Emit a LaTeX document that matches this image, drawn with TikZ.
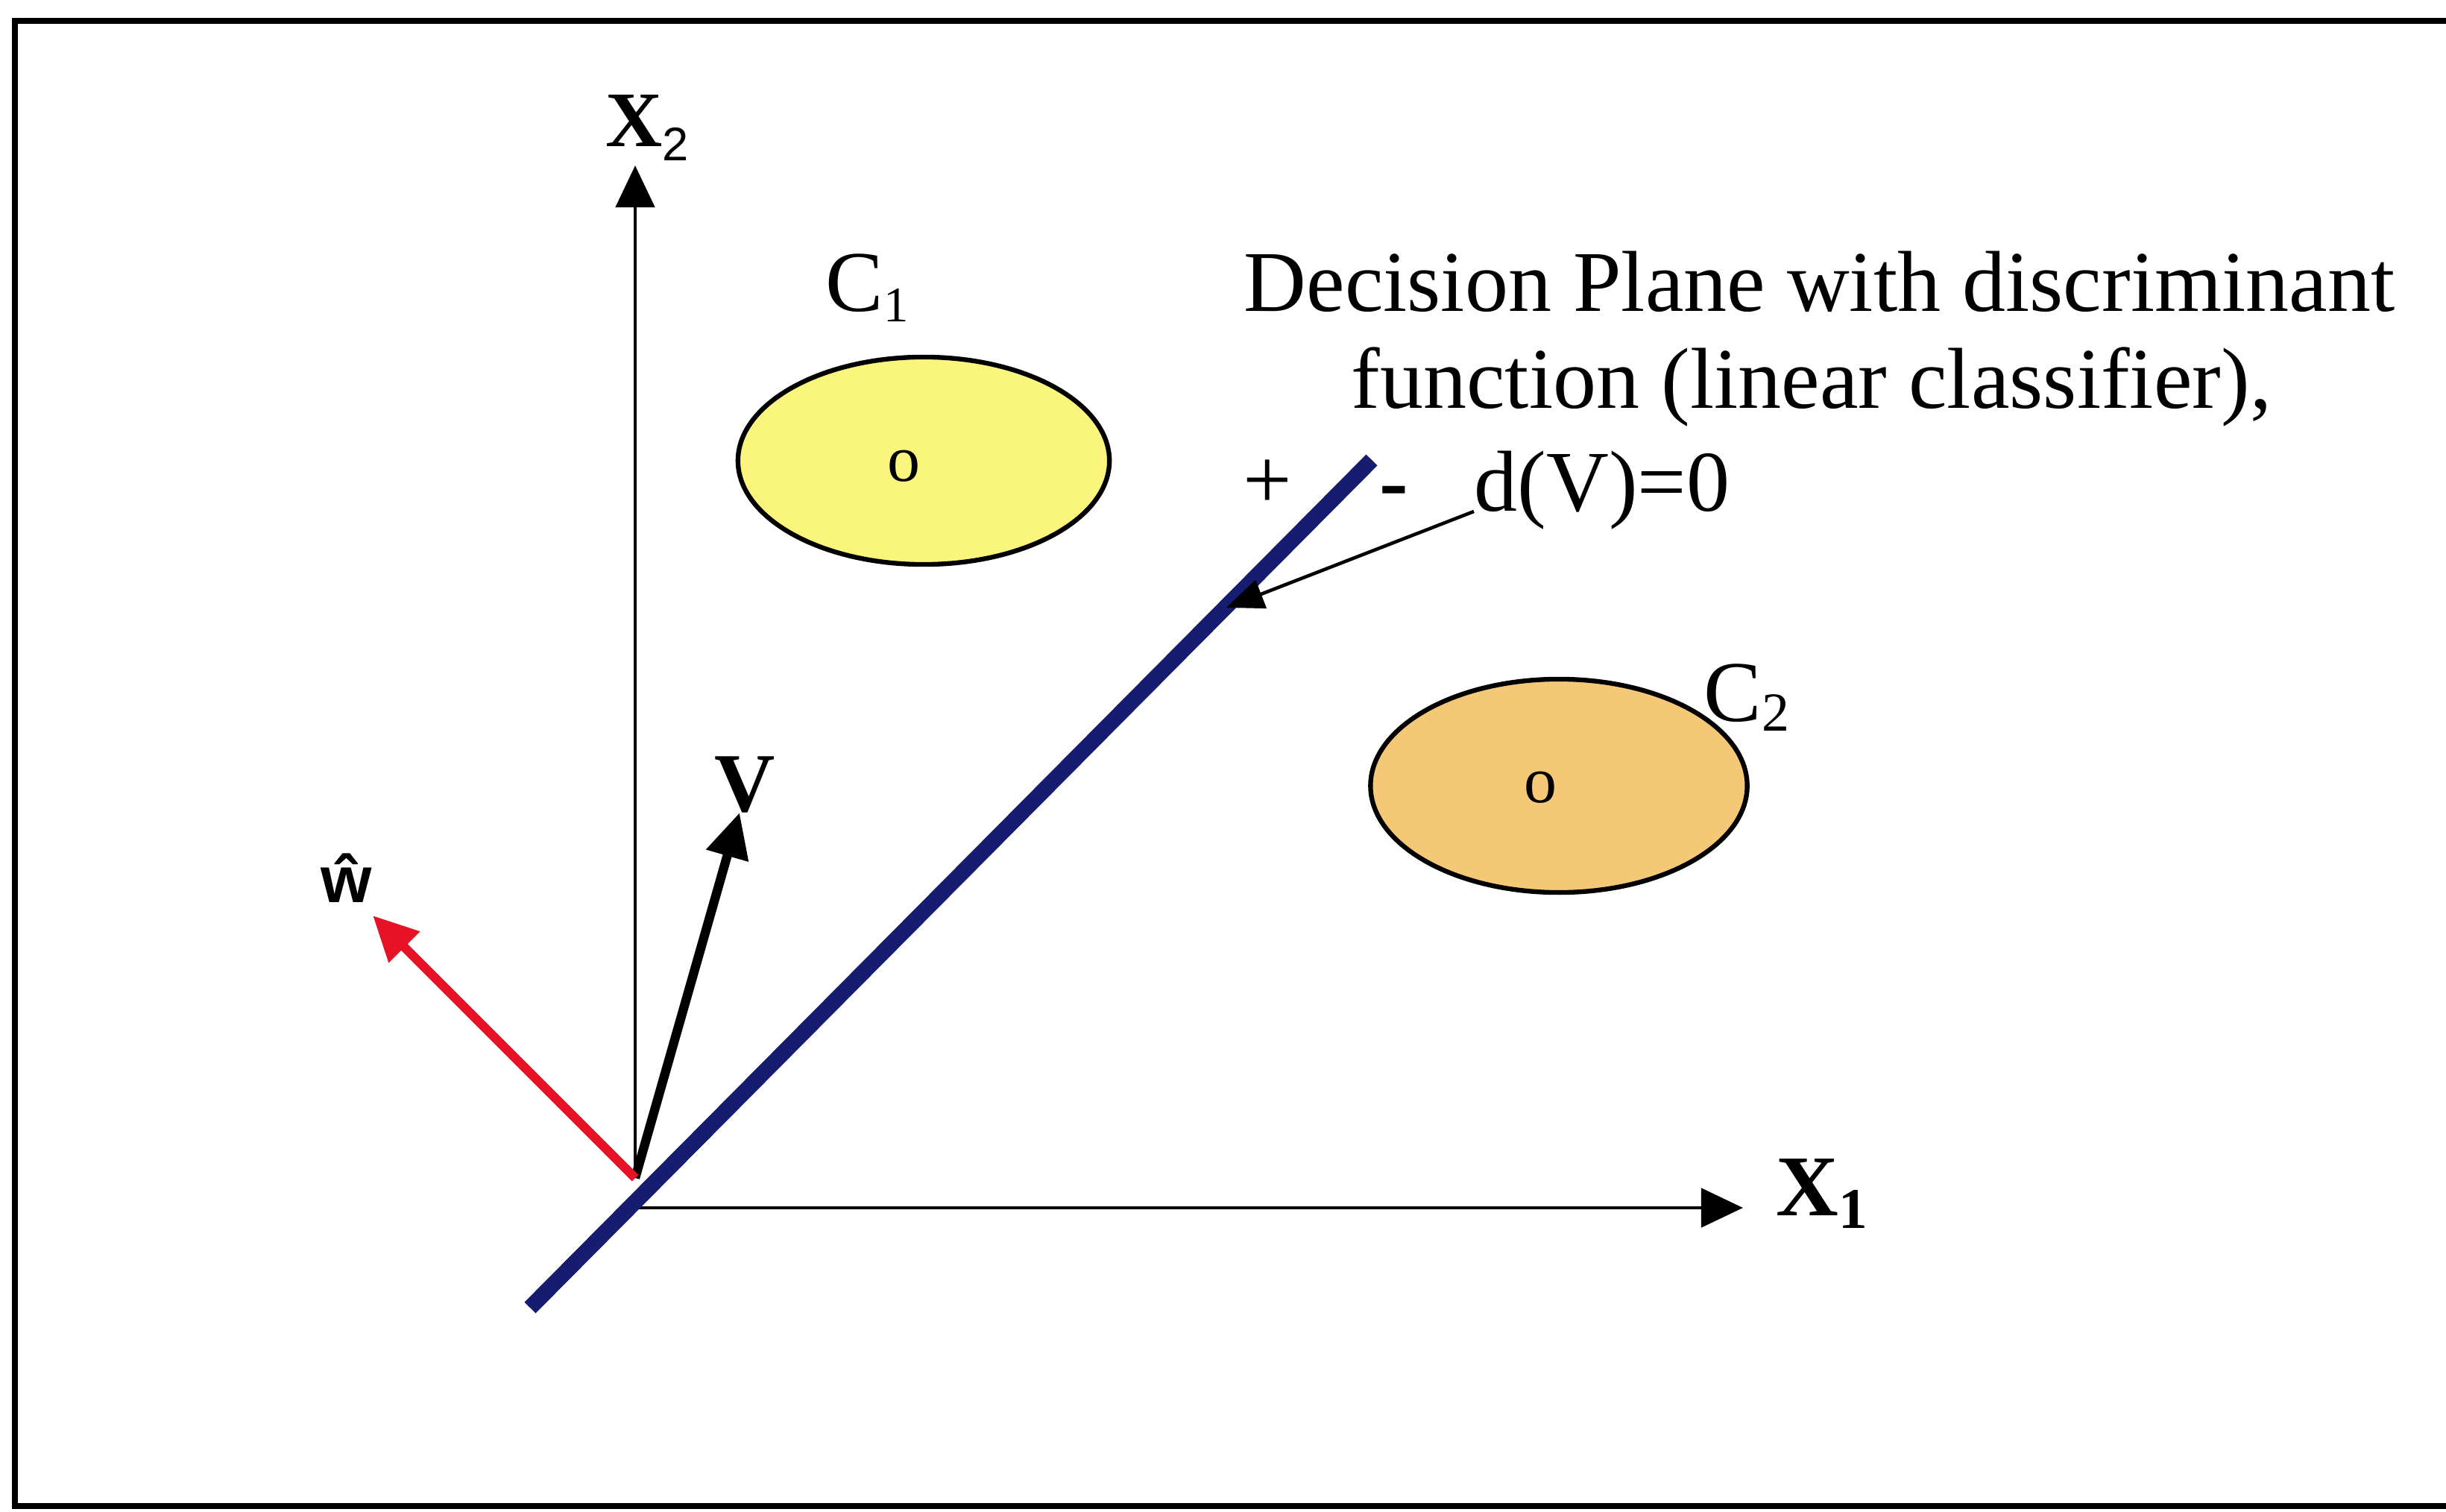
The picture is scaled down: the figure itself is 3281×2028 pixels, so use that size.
\documentclass[tikz,border=0pt]{standalone}
\usepackage{fontspec}
\setmainfont{Liberation Serif}
\setsansfont{Liberation Sans}
\usetikzlibrary{arrows.meta,shapes.geometric}
\definecolor{navy}{RGB}{22,28,112}
\definecolor{vecred}{RGB}{232,18,38}
\definecolor{yel}{RGB}{250,245,125}
\definecolor{ora}{RGB}{245,200,120}
\begin{document}
\begin{tikzpicture}[x=0.01cm,y=-0.01cm,
  txt/.style={inner sep=0pt, font=\fontsize{33}{40}\selectfont},
  smallo/.style={inner sep=0pt, font=\fontsize{25}{28}\selectfont},
  blob/.style={ellipse, draw=black, line width=1.8pt, inner sep=0pt},
  axis/.style={line width=1.4pt, -{Triangle[length=0.56cm,width=0.52cm]}},
  vec/.style={line width=3.5pt, -{Triangle[length=0.6cm,width=0.56cm]}},
  pointer/.style={line width=1.3pt, -{Triangle[length=0.5cm,width=0.4cm]}}]
\useasboundingbox (0,0) rectangle (3281,2028);
\fill[white] (0,0) rectangle (3281,2028);
\draw[line width=2.2pt] (3300,28) -- (20,28) -- (20,2020) -- (3300,2020);

% class regions
\node[blob, fill=yel, minimum width=4.98cm, minimum height=2.78cm] (c1) at (1239,618) {};
\node[blob, fill=ora, minimum width=5.05cm, minimum height=2.86cm] (c2) at (2091,1054) {};
\node[smallo] (o1) at ([xshift=-0.27cm,yshift=-0.07cm]c1.center) {o};
\node[smallo] (o2) at ([xshift=-0.25cm,yshift=-0.02cm]c2.center) {o};

% axes
\coordinate (O) at (852,1580);
\coordinate (ytop) at (852,222);
\coordinate (xl) at (852,1620);
\coordinate (xr) at (2338,1620);
\draw[axis] (O) -- (ytop);
\draw[axis] (xl) -- (xr);

% vectors
\coordinate (vtip) at (992,1090);
\coordinate (wtip) at (500,1228);
\draw[vec, black] (O) -- (vtip);
\draw[vec, vecred] (O) -- (wtip);

% decision plane
\coordinate (pa) at (711,1754);
\coordinate (pb) at (1840,617);
\coordinate (hit) at (1645,815);
\draw[navy, line width=6pt] (pa) -- (pb);

% labels
\node[txt, anchor=base west] (dec1) at (1668,418) {Decision Plane with discriminant};
\node[txt, anchor=base west] (dec2) at (1812,548) {function (linear classifier),};
\node[txt, anchor=base west] (dv) at (1977,686) {d(V)=0};
\node[txt] (plus) at (1700,650) {+};
\node[txt] (minus) at (1870,668) {\bfseries -};
\draw[pointer] (dv.base west) -- (hit);

\node[txt, anchor=base west] (c1lab) at (1107,418) {C\raisebox{-0.12em}{\fontsize{19}{20}\selectfont 1}};
\node[txt, anchor=base west] (c2lab) at (2285,967) {C\raisebox{-0.12em}{\fontsize{21}{22}\selectfont 2}};

\node[anchor=base west, inner sep=0pt] (x2lab) at (812,197) {\fontsize{30}{36}\selectfont\bfseries X\raisebox{-0.18em}{\sffamily\mdseries\fontsize{18}{20}\selectfont 2}};
\node[anchor=base west, inner sep=0pt] (x1lab) at (2382,1630) {\fontsize{33}{40}\selectfont\bfseries X\raisebox{-0.15em}{\fontsize{22}{24}\selectfont 1}};
\node[anchor=base west, inner sep=0pt] (vlab) at (958,1088) {\fontsize{32}{36}\selectfont\bfseries V};
\node[anchor=base west, inner sep=0pt] (wlab) at (430,1210) {\fontsize{25}{30}\selectfont\sffamily\bfseries \^w};
\end{tikzpicture}
\end{document}
